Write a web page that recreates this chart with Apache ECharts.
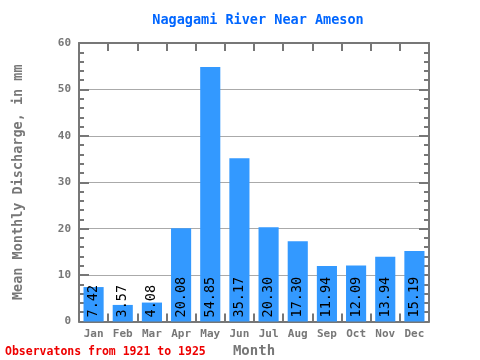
<!DOCTYPE html>
<html><head><meta charset="utf-8">
<script src="https://cdn.jsdelivr.net/npm/echarts@6/dist/echarts.min.js"></script>
<style>html,body{margin:0;padding:0;background:#fff}#c{width:480px;height:360px}</style>
</head><body><div id="c"></div>
<script>
const months = ['Jan','Feb','Mar','Apr','May','Jun','Jul','Aug','Sep','Oct','Nov','Dec'];
const discharge = [7.42, 3.57, 4.08, 20.08, 54.85, 35.17, 20.30, 17.30, 11.94, 12.09, 13.94, 15.19];
const yTicks = [0, 10, 20, 30, 40, 50, 60];

const font = '"DejaVu Sans Mono", monospace';
const axisColor = '#777777';
const chart = echarts.init(document.getElementById('c'));
const yBase = {
  type: 'value', min: yTicks[0], max: yTicks[yTicks.length-1], interval: 10,
  axisLine: {show: true, onZero: false, lineStyle: {color: axisColor, width: 2}},
  axisTick: {show: true, inside: true, length: 10, lineStyle: {color: axisColor, width: 2}},
  minorTick: {show: true, splitNumber: 5, length: 5, lineStyle: {color: axisColor, width: 2}},
  splitLine: {show: false}
};
const xBase = {
  type: 'category', data: months,
  axisLine: {show: true, onZero: false, lineStyle: {color: axisColor, width: 2}},
  axisTick: {show: true, inside: true, interval: 0, length: 8, lineStyle: {color: axisColor, width: 2}}
};
chart.setOption({
  animation: false,
  title: {text: 'Nagagami River Near Ameson', left: 253, textAlign: 'center', top: 8,
    textStyle: {fontFamily: font, fontSize: 13.5, fontWeight: 'bold', color: '#0066ff'}},
  graphic: [{type: 'text', left: 5, top: 346,
    style: {text: 'Observatons from 1921 to 1925', fill: '#ee0000', font: 'bold 11.5px ' + font}}],
  grid: {left: 79, right: 51, top: 43, bottom: 38.5, containLabel: false, outerBoundsMode: 'none'},
  xAxis: [Object.assign({}, xBase, {
    position: 'bottom',
    name: 'Month', nameLocation: 'middle', nameGap: 18,
    nameTextStyle: {fontFamily: font, fontSize: 14, fontWeight: 'bold', color: axisColor},
    axisLabel: {interval: 0, fontFamily: font, fontSize: 11, fontWeight: 'bold', color: axisColor, margin: 7}
  }), Object.assign({}, xBase, {position: 'top', axisLabel: {show: false}})],
  yAxis: [Object.assign({}, yBase, {
    position: 'left',
    name: 'Mean Monthly Discharge, in mm', nameLocation: 'middle', nameGap: 54,
    nameTextStyle: {fontFamily: font, fontSize: 13.5, fontWeight: 'bold', color: axisColor},
    axisLabel: {fontFamily: font, fontSize: 11, fontWeight: 'bold', color: axisColor, margin: 8},
    splitLine: {show: true, lineStyle: {color: '#aaaaaa', width: 1}}
  }), Object.assign({}, yBase, {position: 'right', axisLabel: {show: false}})],
  series: [{
    type: 'bar', data: discharge, barWidth: '69%', xAxisIndex: 0, yAxisIndex: 0,
    itemStyle: {color: '#3399ff'},
    label: {show: true, position: 'insideBottom', rotate: 90, align: 'left', verticalAlign: 'middle',
      distance: 4, formatter: p => p.value.toFixed(2),
      fontFamily: font, fontSize: 13.5, color: '#000'}
  }]
});
</script></body></html>
